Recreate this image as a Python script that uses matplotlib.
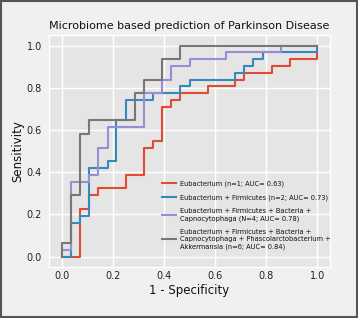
import matplotlib
matplotlib.use("Agg")
import matplotlib.pyplot as plt
from matplotlib.patches import Rectangle

plt.style.use("ggplot")

# ROC corner points (1 - specificity, sensitivity)
fpr_eub = [0.0, 0.071, 0.107, 0.143, 0.250, 0.321, 0.357, 0.393, 0.429, 0.464, 0.571, 0.679, 0.714, 0.821, 0.893, 1.0]
tpr_eub = [0.0, 0.226, 0.290, 0.323, 0.387, 0.516, 0.548, 0.710, 0.742, 0.774, 0.806, 0.839, 0.871, 0.903, 0.935, 1.0]

fpr_firm = [0.0, 0.036, 0.071, 0.107, 0.179, 0.214, 0.250, 0.357, 0.464, 0.500, 0.679, 0.714, 0.750, 0.786, 1.0]
tpr_firm = [0.0, 0.161, 0.194, 0.419, 0.452, 0.645, 0.742, 0.774, 0.806, 0.839, 0.871, 0.903, 0.935, 0.968, 1.0]

fpr_capno = [0.0, 0.0, 0.036, 0.107, 0.143, 0.179, 0.321, 0.393, 0.429, 0.500, 0.643, 0.857, 1.0]
tpr_capno = [0.0, 0.032, 0.355, 0.387, 0.516, 0.613, 0.774, 0.839, 0.903, 0.935, 0.968, 1.0, 1.0]

fpr_akk = [0.0, 0.0, 0.036, 0.071, 0.107, 0.286, 0.321, 0.393, 0.464, 1.0]
tpr_akk = [0.0, 0.065, 0.290, 0.581, 0.645, 0.774, 0.839, 0.935, 1.0, 1.0]

labels = [
    "Eubacterium (n=1; AUC= 0.63)",
    "Eubacterium + Firmicutes (n=2; AUC= 0.73)",
    "Eubacterium + Firmicutes + Bacteria +\nCapnocytophaga (N=4; AUC= 0.78)",
    "Eubacterium + Firmicutes + Bacteria +\nCapnocytophaga + Phascolarctobacterium +\nAkkermansia (n=6; AUC= 0.84)",
]
colors = ["#E24A33", "#348ABD", "#988ED5", "#777777"]
curves = [(fpr_eub, tpr_eub), (fpr_firm, tpr_firm), (fpr_capno, tpr_capno), (fpr_akk, tpr_akk)]

fig = plt.figure(figsize=(3.58, 3.18), dpi=100, facecolor="#f0f0f0")
ax = fig.add_axes([0.137, 0.160, 0.785, 0.730])
ax.set_facecolor("#E5E5E5")

for (x, y), c, lab in zip(curves, colors, labels):
    ax.plot(x, y, drawstyle="steps-post", color=c, lw=1.5, label=lab)

ax.set_xlim(-0.05, 1.05)
ax.set_ylim(-0.05, 1.05)
ax.set_xticks([0.0, 0.2, 0.4, 0.6, 0.8, 1.0])
ax.set_yticks([0.0, 0.2, 0.4, 0.6, 0.8, 1.0])
ax.grid(True, color="white", lw=1.0)
ax.tick_params(length=0, labelsize=7, colors="#222222")
ax.tick_params(axis="x", pad=3)
ax.tick_params(axis="y", pad=5)
for s in ax.spines.values():
    s.set_color("white")

ax.set_title("Microbiome based prediction of Parkinson Disease", fontsize=8, color="#111111", pad=4)
ax.set_xlabel("1 - Specificity", fontsize=8.5, color="#111111", labelpad=2)
ax.set_ylabel("Sensitivity", fontsize=8.5, color="#111111", labelpad=2)

leg = ax.legend(loc="lower right", bbox_to_anchor=(1.025, 0.05), fontsize=4.8, frameon=False,
                handlelength=2.2, labelspacing=1.1, handletextpad=0.6)
for t in leg.get_texts():
    t.set_color("#111111")

# dark frame around the whole picture
fig.patches.append(Rectangle((0.003, 0.003), 0.994, 0.994, transform=fig.transFigure,
                             fill=False, edgecolor="#555555", lw=1.5))

fig.savefig("out.png", dpi=100, facecolor=fig.get_facecolor())
